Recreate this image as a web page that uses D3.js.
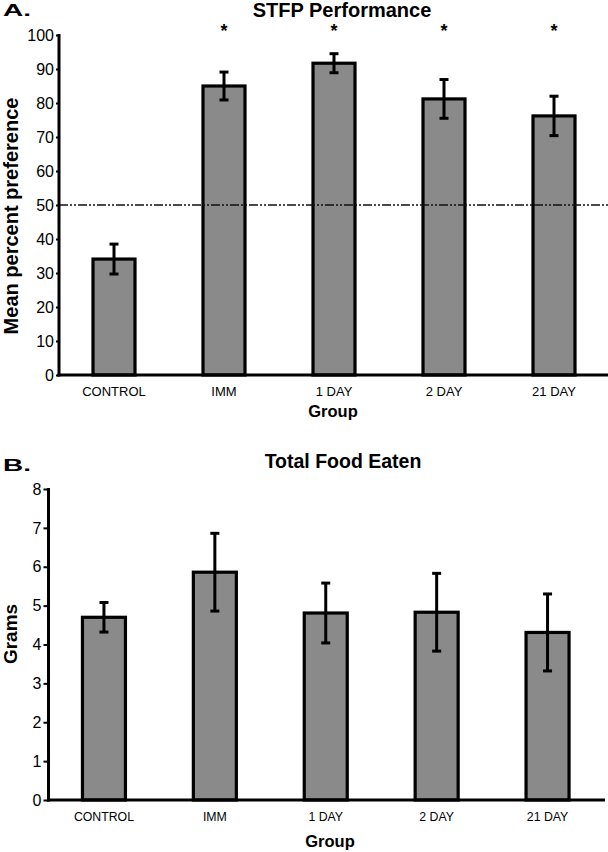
<!DOCTYPE html>
<html><head><meta charset="utf-8">
<script src="https://cdn.jsdelivr.net/npm/d3@7/dist/d3.min.js"></script>
<style>
body{margin:0;background:#fff;}
svg{display:block;font-family:"Liberation Sans",Arial,sans-serif;}
</style></head>
<body>
<svg id="c" width="608" height="852"></svg>
<script>
const categories = ["CONTROL","IMM","1 DAY","2 DAY","21 DAY"];
// Panel A: STFP performance (mean percent preference)
const stfpMeans = [34.1, 85.0, 91.7, 81.2, 76.2];
const stfpErrors = [4.4, 4.1, 2.8, 5.7, 5.8];
const stfpSignificant = [false, true, true, true, true];
const stfpTicks = [0,10,20,30,40,50,60,70,80,90,100];
const chanceLevel = 50;
// Panel B: total food eaten (grams)
const foodMeans = [4.70, 5.86, 4.81, 4.83, 4.31];
const foodErrors = [0.38, 1.00, 0.77, 1.00, 0.99];
const foodTicks = [0,1,2,3,4,5,6,7,8];

const svg = d3.select("#c");
const barFill = "#8a8a8a";

function panel(o){
  const g = svg.append("g");
  const x = d3.scaleBand().domain(categories).range([o.x0, o.x1]);
  const y = d3.scaleLinear().domain(o.domain).range([o.yb, o.yt]);
  const bw = o.bw;
  // bars
  g.selectAll("rect.bar").data(o.means).join("rect")
    .attr("x",(d,i)=>x(categories[i])+x.bandwidth()/2-bw/2)
    .attr("y",d=>y(d))
    .attr("width",bw)
    .attr("height",d=>y(0)-y(d))
    .attr("fill",barFill).attr("stroke","#000").attr("stroke-width",3.2);
  // reference line
  if(o.refLine!==undefined){
    g.append("line").attr("x1",o.x0).attr("x2",608)
      .attr("y1",y(o.refLine)).attr("y2",y(o.refLine))
      .attr("stroke","#111").attr("stroke-width",1.6)
      .attr("stroke-dasharray","9,2,2,2,2,2");
  }
  // error bars
  const eb = g.selectAll("g.eb").data(o.means).join("g");
  eb.append("line")
    .attr("x1",(d,i)=>x(categories[i])+x.bandwidth()/2)
    .attr("x2",(d,i)=>x(categories[i])+x.bandwidth()/2)
    .attr("y1",(d,i)=>y(d+o.errs[i])).attr("y2",(d,i)=>y(d-o.errs[i]))
    .attr("stroke","#000").attr("stroke-width",3);
  [1,-1].forEach(s=>{
    eb.append("line")
      .attr("x1",(d,i)=>x(categories[i])+x.bandwidth()/2-4.5)
      .attr("x2",(d,i)=>x(categories[i])+x.bandwidth()/2+4.5)
      .attr("y1",(d,i)=>y(d+s*o.errs[i])).attr("y2",(d,i)=>y(d+s*o.errs[i]))
      .attr("stroke","#000").attr("stroke-width",3);
  });
  // y axis
  const ya = d3.axisLeft(y).tickValues(o.ticks).tickSize(o.tickLen).tickPadding(2).tickSizeOuter(0);
  const yg = g.append("g").attr("transform",`translate(${o.x0},0)`).call(ya);
  yg.select(".domain").remove();
  yg.selectAll(".tick line").attr("stroke","#000").attr("stroke-width",2);
  yg.selectAll(".tick text").attr("font-size",o.tickFont).attr("fill","#000")
    .attr("font-family","Liberation Sans, Arial, sans-serif");
  g.append("line").attr("x1",o.x0).attr("x2",o.x0).attr("y1",y(o.domain[1])-1).attr("y2",y(0)+1.5)
    .attr("stroke","#000").attr("stroke-width",3);
  // x axis line
  g.append("line").attr("x1",o.x0-1.5).attr("x2",o.xEnd).attr("y1",y(0)).attr("y2",y(0))
    .attr("stroke","#000").attr("stroke-width",3);
  // x labels
  const xa = d3.axisBottom(x).tickSize(0).tickPadding(o.xPad);
  const xg = g.append("g").attr("transform",`translate(0,${y(0)})`).call(xa);
  xg.select(".domain").remove();
  xg.selectAll(".tick text").attr("font-size",o.xFont).attr("fill","#000")
    .attr("font-family","Liberation Sans, Arial, sans-serif");
  // titles
  g.append("text").attr("x",o.titleX).attr("y",o.titleY).attr("text-anchor","middle")
    .attr("font-weight","bold").attr("font-size",o.titleFont).text(o.title);
  g.append("text").attr("x",o.groupX).attr("y",o.groupY).attr("text-anchor","middle")
    .attr("font-weight","bold").attr("font-size",16.5).text("Group");
  g.append("text").attr("transform",`translate(${o.ylabX},${o.ylabY}) rotate(-90)`)
    .attr("text-anchor","middle").attr("font-weight","bold").attr("font-size",o.ylabFont).text(o.ylab);
  g.append("text").attr("transform",`translate(3,${o.letterY}) scale(1.75,1)`)
    .attr("font-weight","bold").attr("font-size",16).text(o.letter);
  return {g,x,y};
}

const A = panel({x0:59,x1:609,xEnd:608,yb:375,yt:35,domain:[0,100],means:stfpMeans,errs:stfpErrors,
  bw:42,ticks:stfpTicks,tickLen:3,tickFont:16,xFont:13,xPad:12,refLine:chanceLevel,
  title:"STFP Performance",titleX:342,titleY:17,titleFont:20,groupX:333,groupY:417,
  ylab:"Mean percent preference",ylabX:18,ylabY:216,ylabFont:20,letter:"A.",letterY:16});
// significance stars
A.g.selectAll("text.star").data(stfpSignificant).join("text")
  .attr("class","star")
  .attr("x",(d,i)=>A.x(categories[i])+A.x.bandwidth()/2)
  .attr("y",37).attr("text-anchor","middle").attr("font-weight","bold").attr("font-size",18)
  .text(d=>d?"*":"");

panel({x0:48.5,x1:603,xEnd:605,yb:800,yt:489,domain:[0,8],means:foodMeans,errs:foodErrors,
  bw:43,ticks:foodTicks,tickLen:5,tickFont:16,xFont:12.3,xPad:12,
  title:"Total Food Eaten",titleX:343,titleY:468,titleFont:19.5,groupX:330,groupY:847,
  ylab:"Grams",ylabX:17,ylabY:634,ylabFont:19,letter:"B.",letterY:471});
</script>
</body></html>
